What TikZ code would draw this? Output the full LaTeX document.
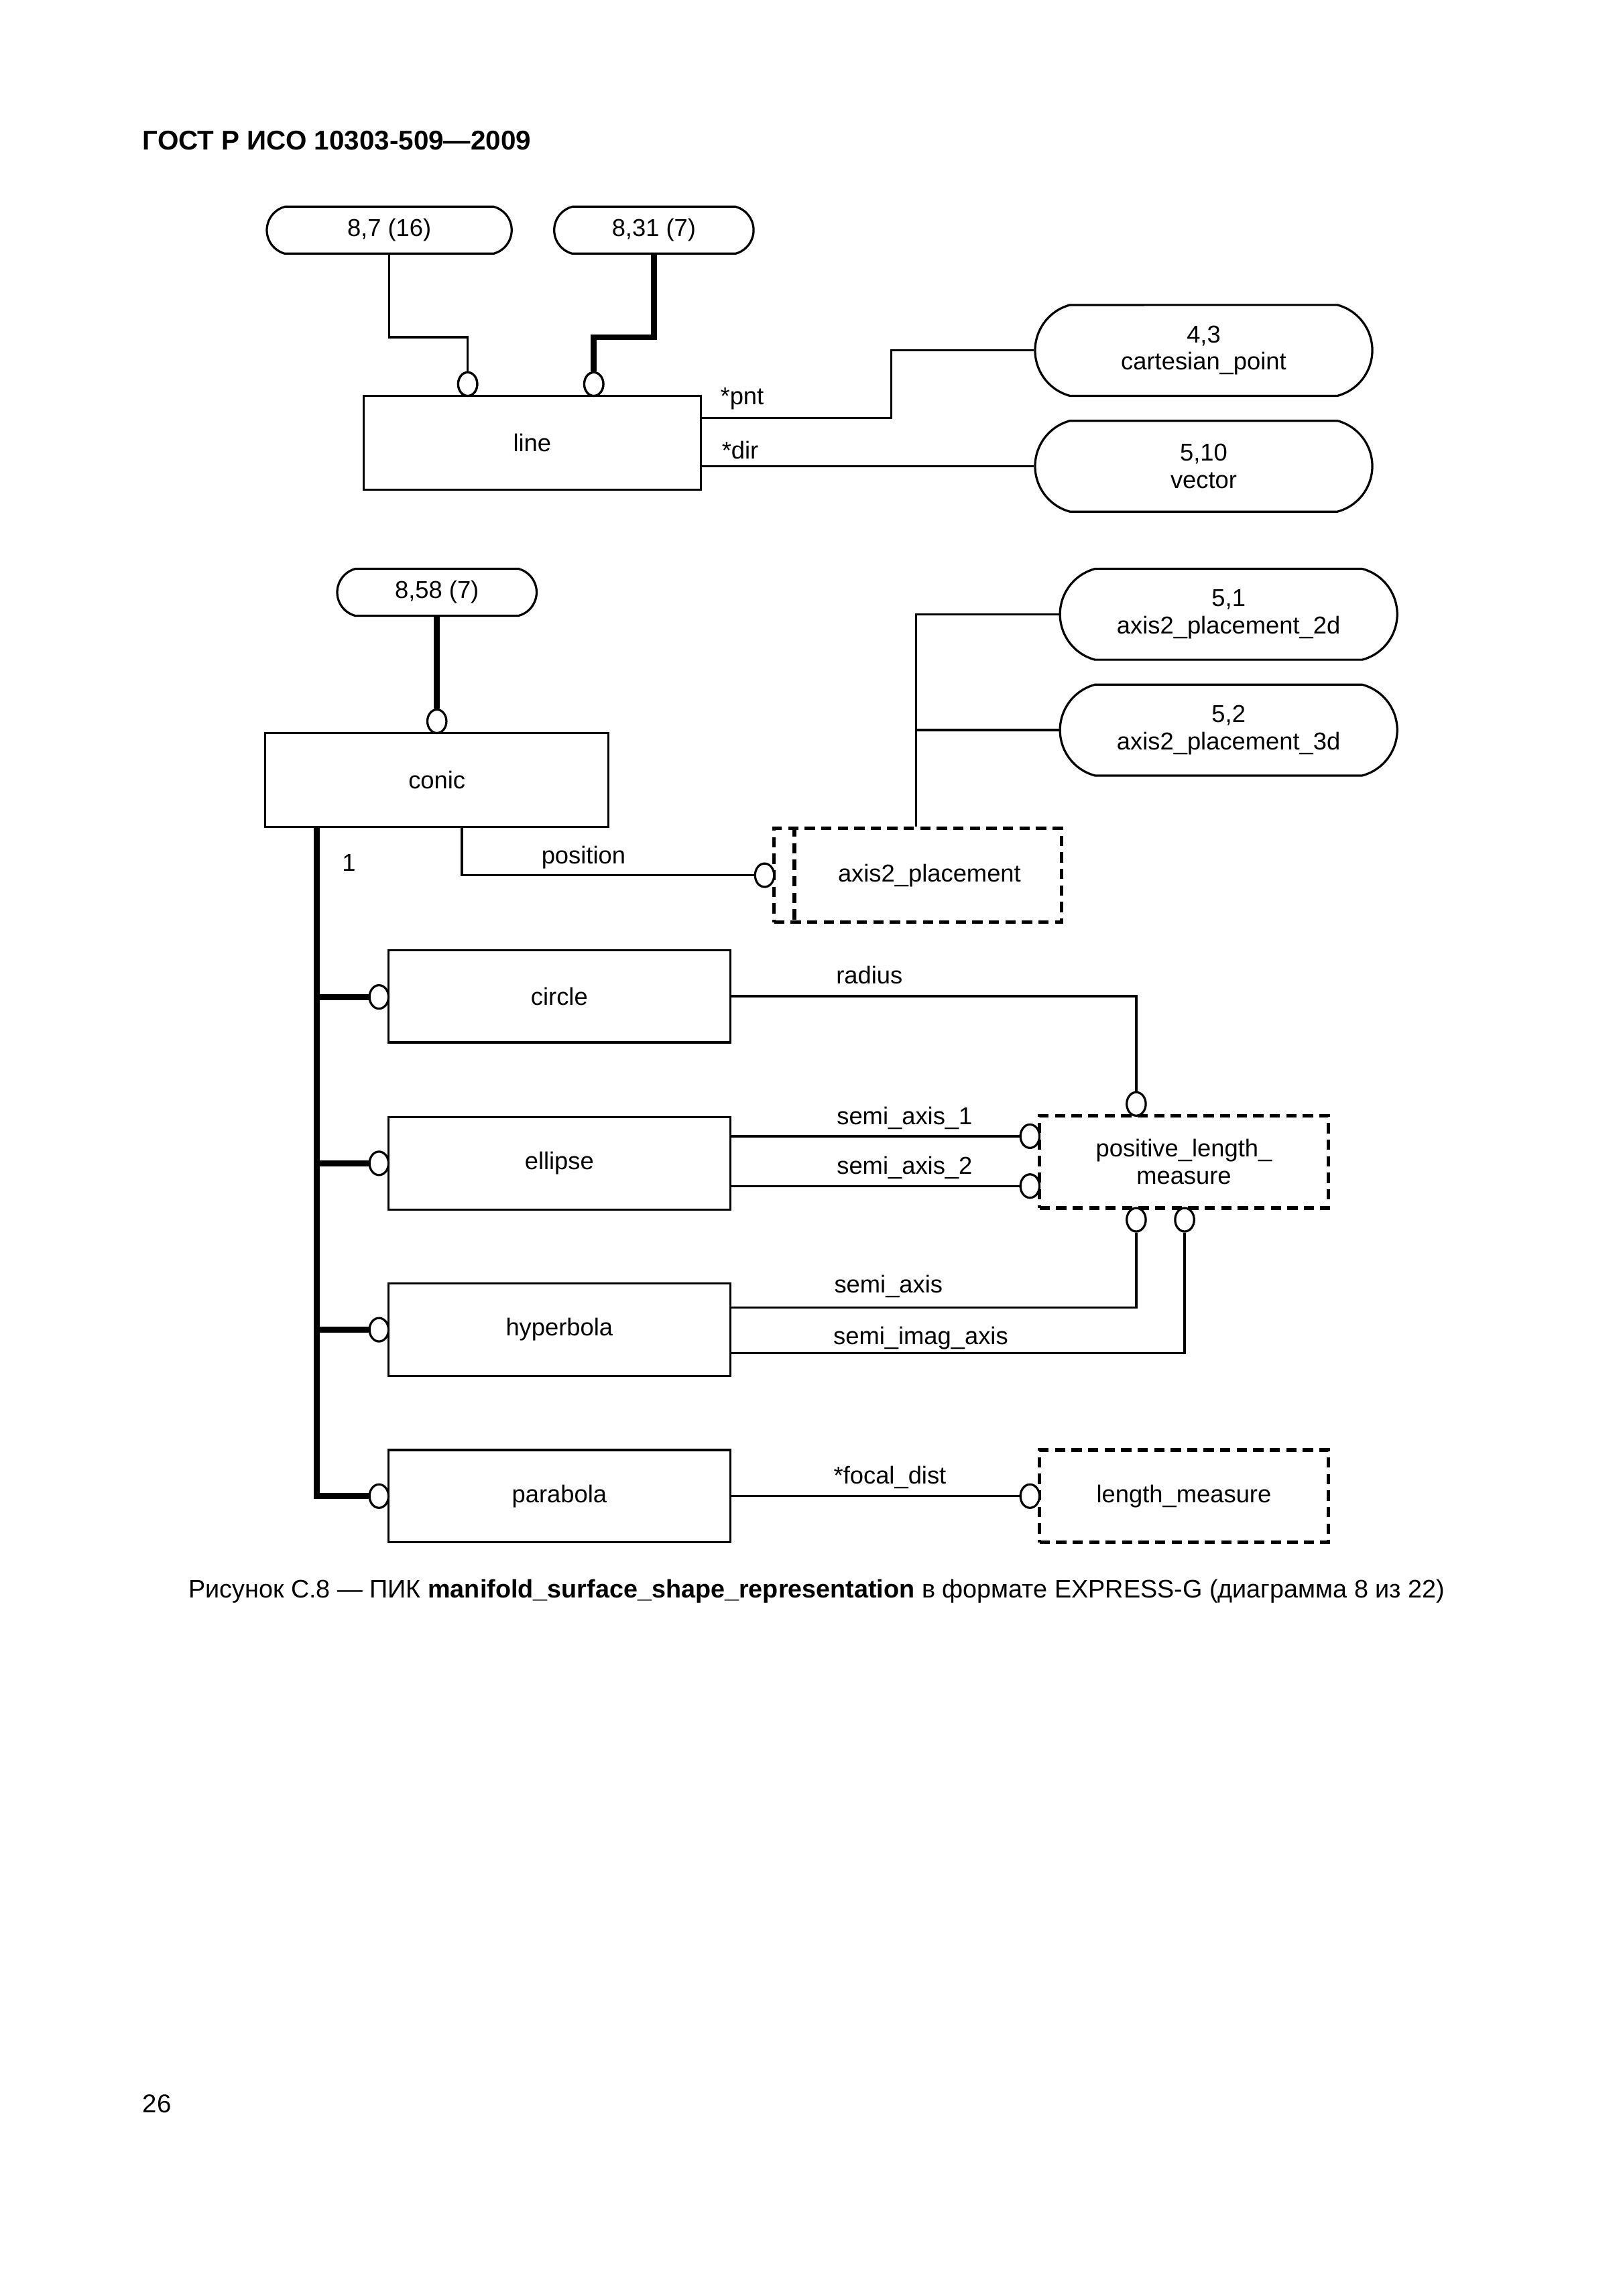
\documentclass[tikz,border=0pt]{standalone}
\usepackage{fontspec}
\setmainfont{Liberation Sans}
\usetikzlibrary{shapes.misc,shapes.geometric}
\newcommand{\uu}{0.5414pt}
\newcommand{\lbl}{\fontsize{9}{10}\selectfont}
\begin{document}
\begin{tikzpicture}[x=0.5414pt,y=-0.5414pt,
  thinl/.style={line width=0.8pt},
  thickl/.style={line width=2.2pt},
  ent/.style={draw,line width=0.8pt,rectangle,inner sep=0pt,minimum width=233*\uu,minimum height=63*\uu,font=\lbl},
  pill/.style={draw,line width=0.8pt,rounded rectangle,rounded rectangle arc length=150,inner sep=0pt,minimum height=62*\uu,minimum width=230*\uu,align=center,font=\lbl},
  spill/.style={pill,minimum height=32*\uu},
  dashl/.style={line width=1.3pt,dash pattern=on 3.8pt off 2.3pt},
  dbox/.style={draw,dashl,rectangle,inner sep=0pt,minimum width=197*\uu,minimum height=63*\uu,align=center,font=\lbl},
  oc/.style={draw,ellipse,line width=0.8pt,fill=white,inner sep=0pt,minimum width=13*\uu,minimum height=16*\uu},
  lab/.style={font=\lbl,inner sep=0pt,anchor=base}
]
\useasboundingbox (0,0) rectangle (1107,1566.1);

% header
\node[anchor=base west,inner sep=0pt,font=\bfseries\fontsize{10}{12}\selectfont] (hdr) at (97,102) {ГОСТ Р ИСО 10303-509—2009};

% helper coordinates
\coordinate (Y230) at (0,230);
\coordinate (Y285) at (0,285);
\coordinate (Y318) at (0,318);
\coordinate (X608) at (608,0);
\coordinate (X216) at (216,0);
\coordinate (X315) at (315,0);
\coordinate (X625) at (625,0);
\coordinate (Y892) at (0,892);
\coordinate (Y923) at (0,923);

% top part
\node[spill,minimum width=167*\uu] (p87) at (265.5,157) {8,7 (16)};
\node[spill,minimum width=136*\uu] (p831) at (446,157) {8,31 (7)};
\node[ent,minimum width=230*\uu,minimum height=64*\uu] (line) at (363,302) {line};
\node[pill] (pcart) at (821,239) {4,3\\cartesian\_point};
\node[pill] (pvec) at (821,318) {5,10\\vector};
\node[oc] (c1) at (319,262) {};
\node[oc] (c2) at (405,262) {};

\draw[thinl] (p87.south) -- (p87.south |- Y230) -- (c1.north |- Y230) -- (c1.north);
\draw[thickl] (p831.south) -- (p831.south |- Y230) -- (c2.north |- Y230) -- (c2.north);
\node[oc] at (c1) {};
\node[oc] at (c2) {};
\draw[thinl] (line.east |- Y285) -- (X608 |- Y285) -- (X608 |- pcart.west) -- (pcart.west);
\draw[thinl] (line.east |- Y318) -- (pvec.west);
\node[lab,anchor=base west] (lpnt) at (491,276) {*pnt};
\node[lab,anchor=base west] (ldir) at (492,313) {*dir};

% second part
\node[spill,minimum width=136*\uu] (p858) at (298,404) {8,58 (7)};
\node[ent,minimum width=234*\uu,minimum height=64*\uu] (conic) at (298,532) {conic};
\node[oc] (c3) at (298,492) {};
\draw[thickl] (p858.south) -- (c3.north);

\node[pill] (p2d) at (838,419) {5,1\\axis2\_placement\_2d};
\node[pill] (p3d) at (838,498) {5,2\\axis2\_placement\_3d};
\node[dbox,minimum width=196*\uu,minimum height=64*\uu] (a2p) at (626,597) {\hspace*{8.6pt}axis2\_placement};
\draw[dashl] ([xshift=15*\uu]a2p.north west) -- ([xshift=15*\uu]a2p.south west);
\node[oc] (c4) at (521.5,597) {};
\draw[thinl] (conic.south -| X315) |- (c4.west);
\node[lab] (lpos) at (398,589) {position};
\draw[thinl] (a2p.north -| X625) |- (p2d.west);
\draw[thinl] (X625 |- p3d.west) -- (p3d.west);

% subtypes
\node[ent] (ncirc) at (381.5,679.5) {circle};
\node[ent] (nell) at (381.5,793.5) {ellipse};
\node[ent] (nhyp) at (381.5,907) {hyperbola};
\node[ent] (npar) at (381.5,1020.5) {parabola};
\node[oc] (cc) at (258.5,680) {};
\node[oc] (ce) at (258.5,793.5) {};
\node[oc] (ch) at (258.5,907) {};
\node[oc] (cp) at (258.5,1020.5) {};
\draw[thickl] (conic.south -| X216) -- (X216 |- cp.west) -- (cp.west);
\draw[thickl] (X216 |- cc.west) -- (cc.west);
\draw[thickl] (X216 |- ce.west) -- (ce.west);
\draw[thickl] (X216 |- ch.west) -- (ch.west);
\node[lab] (lone) at (238,594) {1};

% measures
\node[dbox] (plm) at (807.5,792.5) {positive\_length\_\\measure};
\node[dbox] (lm) at (807.5,1020.5) {length\_measure};
\node[oc] (ct) at (775,753) {};
\node[oc] (cl1) at (702.5,775) {};
\node[oc] (cl2) at (702.5,809) {};
\node[oc] (cb1) at (775,832) {};
\node[oc] (cb2) at (808,832) {};
\node[oc] (clm) at (702.5,1020.5) {};

\draw[thinl] (ncirc.east) -| (ct.north);
\draw[thinl] (nell.east |- cl1.west) -- (cl1.west);
\draw[thinl] (nell.east |- cl2.west) -- (cl2.west);
\draw[thinl] (nhyp.east |- Y892) -| (cb1.south);
\draw[thinl] (nhyp.east |- Y923) -| (cb2.south);
\draw[thinl] (npar.east) -- (clm.west);

\node[lab] (lrad) at (593,671) {radius};
\node[lab] (lsa1) at (617,767) {semi\_axis\_1};
\node[lab] (lsa2) at (617,801) {semi\_axis\_2};
\node[lab] (lsa) at (606,882) {semi\_axis};
\node[lab] (lsia) at (628,917) {semi\_imag\_axis};
\node[lab] (lfd) at (607,1012) {*focal\_dist};

% caption and page number
\node[lab,font=\fontsize{9.35}{11}\selectfont] (cap) at (557,1090) {Рисунок С.8 — ПИК \textbf{manifold\_surface\_shape\_representation} в формате EXPRESS-G (диаграмма 8 из 22)};
\node[lab,font=\fontsize{9.5}{11}\selectfont] (pnum) at (107,1441) {26};
\end{tikzpicture}
\end{document}
